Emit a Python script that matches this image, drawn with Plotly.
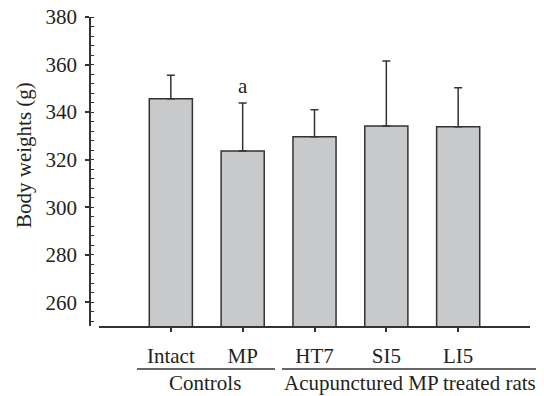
import plotly.graph_objects as go

categories = ["Intact", "MP", "HT7", "SI5", "LI5"]
means = [345.6, 323.6, 329.6, 334.1, 333.8]
errors_plus = [9.9, 20.2, 11.4, 27.4, 16.4]
y_ticks = [260, 280, 300, 320, 340, 360, 380]
groups = ["Controls", "Acupunctured MP treated rats"]
sig_label = "a"

FONT = "Liberation Serif"
FS = 21
TXT = "#231f20"
DARK = "#333333"

xpos = list(range(len(categories)))

# page has an 8px body margin; compensate so the figure lands on the reference pixels
OFF = 8
W, H = 544 - OFF, 396 - OFF
L, T = 90 - OFF, 17 - OFF
R = W - (530 - OFF)
B = H - (326 - OFF)
pw = W - L - R
ph = H - T - B

def px(xp):
    return (xp - OFF - L) / pw

def py(yp):
    return 1 - (yp - OFF - T) / ph

fig = go.Figure()
fig.add_trace(go.Bar(
    x=xpos, y=means, width=0.6,
    marker=dict(color="#c8c9cb", line=dict(color=DARK, width=1.5)),
    error_y=dict(type="data", symmetric=False, array=errors_plus,
                 arrayminus=[0] * len(means), color=DARK, thickness=1.5, width=4),
    showlegend=False, hoverinfo="skip",
))

fig.update_layout(
    width=W, height=H,
    margin=dict(l=L, r=R, t=T, b=B, autoexpand=False),
    plot_bgcolor="white", paper_bgcolor="white",
    font=dict(family=FONT, size=FS, color=TXT),
)
fig.update_xaxes(
    domain=[9 / pw, 1], range=[-1, 5],
    tickmode="array", tickvals=xpos, ticktext=categories,
    ticks="outside", ticklen=4, tickwidth=1.5, tickcolor=DARK,
    showline=True, linecolor=DARK, linewidth=1.5,
    showgrid=False, zeroline=False, ticklabelstandoff=6,
    tickfont=dict(family=FONT, size=FS, color=TXT), fixedrange=True,
)
fig.update_yaxes(
    range=[250, 380], anchor="free", position=0,
    tickmode="array", tickvals=y_ticks, ticklabeloverflow="allow",
    ticks="outside", ticklen=4, tickwidth=1.5, tickcolor=DARK,
    minor=dict(ticks="inside", dtick=4, tick0=252, ticklen=3, tickwidth=1.2, tickcolor=DARK),
    showline=True, linecolor=DARK, linewidth=1.5,
    showgrid=False, zeroline=False, ticklabelstandoff=4,
    tickfont=dict(family=FONT, size=FS, color=TXT), fixedrange=True,
)

# axis title
fig.add_annotation(text="Body weights (g)", textangle=-90, xref="paper", yref="paper",
                   x=px(24), y=py(155), xanchor="center", yanchor="middle",
                   showarrow=False, font=dict(family=FONT, size=FS, color=TXT))

# significance label
fig.add_annotation(text=sig_label, x=1, y=means[1] + errors_plus[1], yshift=17,
                   xref="x", yref="y", showarrow=False, xanchor="center", yanchor="middle",
                   font=dict(family=FONT, size=FS, color=TXT))

# group lines and labels
for x0, x1 in [(137, 275), (282, 543)]:
    fig.add_shape(type="line", xref="paper", yref="paper",
                  x0=px(x0), x1=px(x1), y0=py(369), y1=py(369),
                  line=dict(color=DARK, width=1.5))
fig.add_annotation(text=groups[0], xref="paper", yref="paper", x=px(205), y=py(383),
                   xanchor="center", yanchor="middle",
                   showarrow=False, font=dict(family=FONT, size=FS, color=TXT))
fig.add_annotation(text=groups[1], xref="paper", yref="paper", x=px(410), y=py(383),
                   xanchor="center", yanchor="middle",
                   showarrow=False, font=dict(family=FONT, size=FS, color=TXT))

fig.write_html("out.html")
